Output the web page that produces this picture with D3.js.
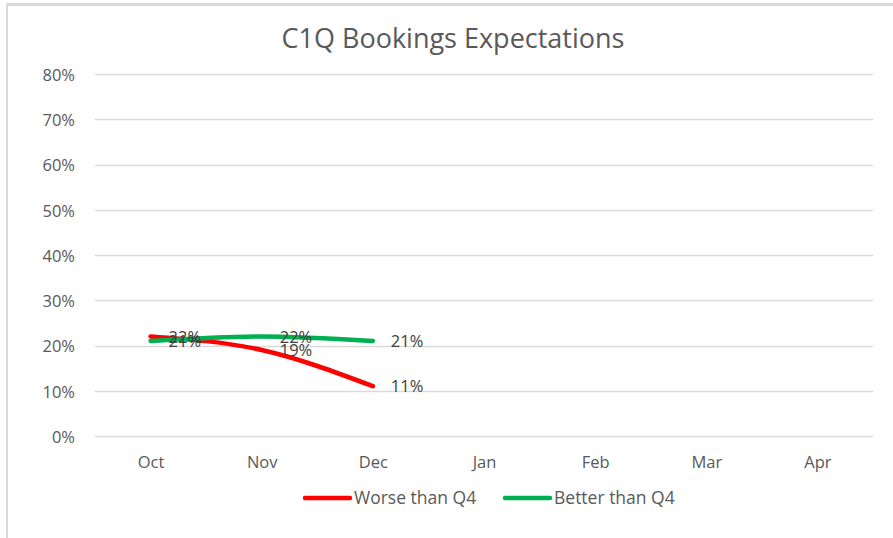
<!DOCTYPE html>
<html>
<head>
<meta charset="utf-8">
<script src="https://cdn.jsdelivr.net/npm/d3@7"></script>
<style>
  body { margin: 0; background: #fff; }
  svg { display: block; }
  text { font-family: "Open Sans", "Noto Sans", sans-serif; }
</style>
</head>
<body>
<div id="chart"></div>
<script>
const months = ["Oct", "Nov", "Dec", "Jan", "Feb", "Mar", "Apr"];
const worseVals = [0.22, 0.19, 0.11];
const betterVals = [0.21, 0.22, 0.21];
const yTicks = [0, 0.1, 0.2, 0.3, 0.4, 0.5, 0.6, 0.7, 0.8];

const W = 893, H = 538;
const margin = { top: 74, right: 20, bottom: 102, left: 95 };

const svg = d3.select("#chart").append("svg")
  .attr("width", W)
  .attr("height", H);

// chart area frame (only top and left edges show)
svg.append("rect").attr("x", 6).attr("y", 3).attr("width", W).attr("height", 3).attr("fill", "#d9d9d9");
svg.append("rect").attr("x", 6).attr("y", 3).attr("width", 2).attr("height", H).attr("fill", "#d9d9d9");

const x = d3.scalePoint()
  .domain(months)
  .range([margin.left, 873])
  .padding(0.5);

const y = d3.scaleLinear()
  .domain([0, 0.8])
  .range([436, margin.top]);

// gridlines
svg.append("g")
  .selectAll("line")
  .data(yTicks)
  .enter()
  .append("line")
  .attr("x1", margin.left)
  .attr("x2", 873)
  .attr("y1", d => Math.round(y(d)) + 0.5)
  .attr("y2", d => Math.round(y(d)) + 0.5)
  .attr("stroke", "#d9d9d9")
  .attr("stroke-width", 1.5);

// y axis labels
const yAxis = svg.append("g")
  .attr("transform", `translate(${margin.left - 20},0)`)
  .call(d3.axisLeft(y).tickValues(yTicks).tickFormat(d3.format(".0%")).tickSize(0).tickPadding(0));
yAxis.select(".domain").remove();
yAxis.selectAll("text")
  .attr("font-size", 16.5)
  .attr("fill", "#595959")
  .attr("dy", "0.38em")
  .style("font-family", "'Open Sans', sans-serif");

// x axis labels
const xAxis = svg.append("g")
  .attr("transform", "translate(0,468)")
  .call(d3.axisBottom(x).tickSize(0).tickPadding(0));
xAxis.select(".domain").remove();
xAxis.selectAll("text")
  .attr("font-size", 16.5)
  .attr("fill", "#595959")
  .attr("y", 0)
  .attr("dy", 0)
  .style("font-family", "'Open Sans', sans-serif");

// title
svg.append("text")
  .attr("x", 453)
  .attr("y", 48)
  .attr("text-anchor", "middle")
  .attr("font-size", 27)
  .attr("fill", "#595959")
  .text("C1Q Bookings Expectations");

const series = [
  { name: "Worse than Q4", values: worseVals, color: "#ff0000" },
  { name: "Better than Q4", values: betterVals, color: "#00b050" }
];

const line = d3.line()
  .x((d, i) => x(months[i]))
  .y(d => y(d))
  .curve(d3.curveMonotoneX);

series.forEach(s => {
  svg.append("path")
    .datum(s.values)
    .attr("fill", "none")
    .attr("stroke", s.color)
    .attr("stroke-width", 4.5)
    .attr("stroke-linecap", "round")
    .attr("d", line);
});

// data labels, placed right of each point
series.forEach(s => {
  svg.append("g")
    .selectAll("text")
    .data(s.values)
    .enter()
    .append("text")
    .attr("x", (d, i) => x(months[i]) + 18)
    .attr("y", d => y(d))
    .attr("dy", "0.38em")
    .attr("font-size", 16.5)
    .attr("fill", "#404040")
    .text(d => d3.format(".0%")(d));
});

// legend
const legend = svg.append("g").attr("transform", "translate(305,498)");
const legItems = legend.selectAll("g")
  .data(series)
  .enter()
  .append("g")
  .attr("transform", (d, i) => `translate(${i * 200},0)`);
legItems.append("line")
  .attr("x1", 0).attr("x2", 45)
  .attr("stroke", d => d.color)
  .attr("stroke-width", 4.5)
  .attr("stroke-linecap", "round");
legItems.append("text")
  .attr("x", 49)
  .attr("dy", "0.36em")
  .attr("font-size", 17.5)
  .attr("fill", "#595959")
  .text(d => d.name);
</script>
</body>
</html>
